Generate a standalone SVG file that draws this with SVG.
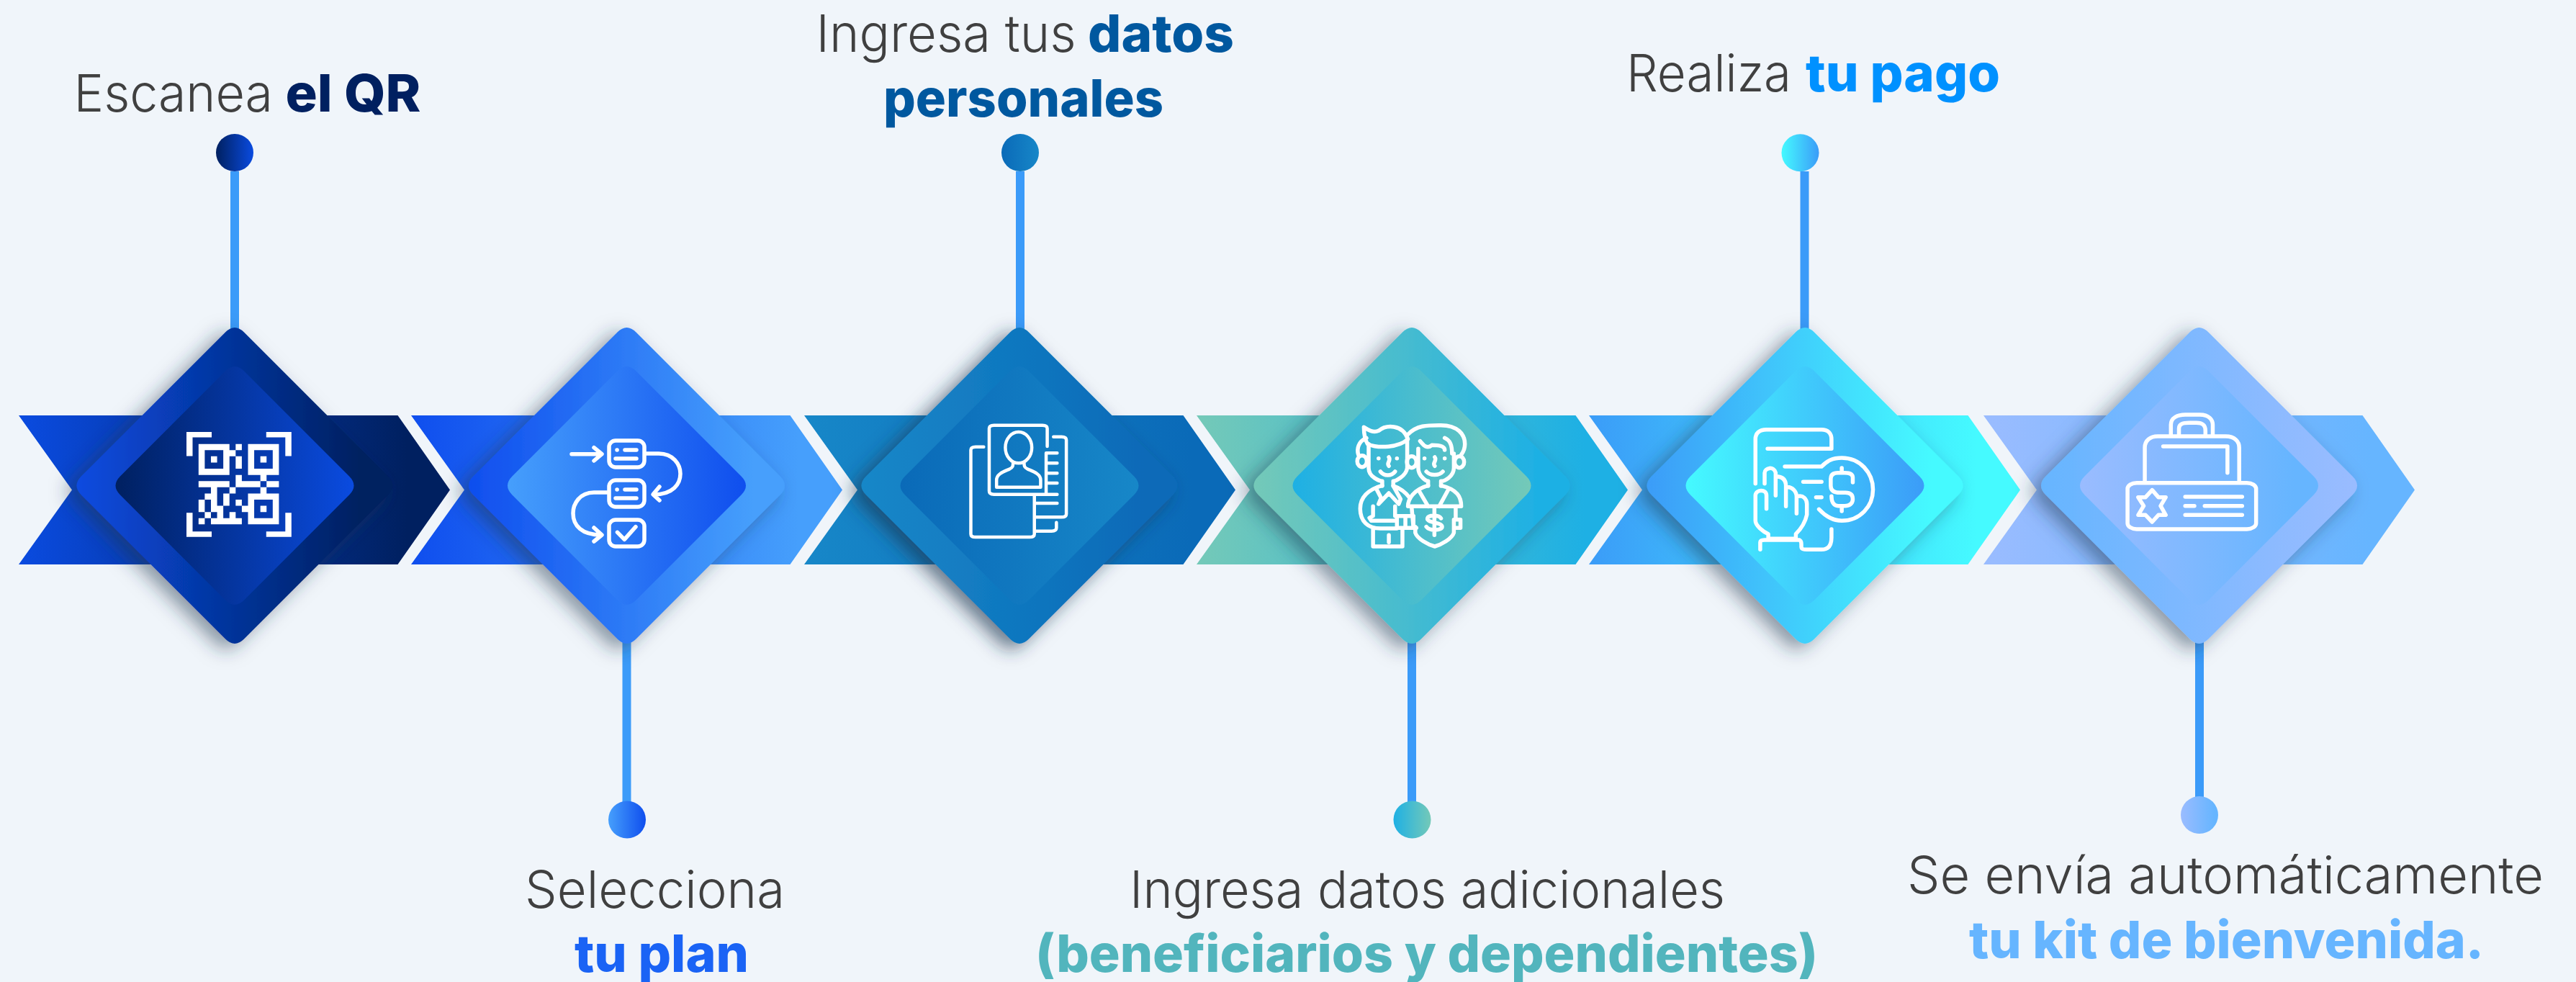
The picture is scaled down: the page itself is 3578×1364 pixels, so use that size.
<svg xmlns="http://www.w3.org/2000/svg" width="3578" height="1364" viewBox="0 0 3578 1364">
<style>
.bg{fill:#f0f5fa}
.con{stroke:#3b9bf9;stroke-width:12;fill:none}
text{font-family:"Inter","Liberation Sans",sans-serif;font-size:72px;fill:#404040;font-weight:300}
.b{font-weight:800}
.ic{fill:none;stroke:#fff;stroke-width:5.500;stroke-linecap:round;stroke-linejoin:round}
.ic *{vector-effect:non-scaling-stroke}
.sm{stroke-width:4.500}
</style>
<defs>
<linearGradient id="a1"><stop offset="0" stop-color="#0a4be0"/><stop offset=".9" stop-color="#002060"/></linearGradient>
<linearGradient id="b1"><stop offset="0" stop-color="#002060"/><stop offset="1" stop-color="#0a4be0"/></linearGradient>
<linearGradient id="a2"><stop offset="0" stop-color="#0f4eee"/><stop offset=".9" stop-color="#469ffc"/></linearGradient>
<linearGradient id="b2"><stop offset="0" stop-color="#469ffc"/><stop offset="1" stop-color="#0f4eee"/></linearGradient>
<linearGradient id="a3"><stop offset="0" stop-color="#1787c8"/><stop offset=".9" stop-color="#0a6ab8"/></linearGradient>
<linearGradient id="b3"><stop offset="0" stop-color="#0a6ab8"/><stop offset="1" stop-color="#1787c8"/></linearGradient>
<linearGradient id="a4"><stop offset="0" stop-color="#74c9b8"/><stop offset=".9" stop-color="#1eb0e4"/></linearGradient>
<linearGradient id="b4"><stop offset="0" stop-color="#1eb0e4"/><stop offset="1" stop-color="#74c9b8"/></linearGradient>
<linearGradient id="a5"><stop offset="0" stop-color="#3b9cf8"/><stop offset=".9" stop-color="#45faff"/></linearGradient>
<linearGradient id="b5"><stop offset="0" stop-color="#45faff"/><stop offset="1" stop-color="#3b9cf8"/></linearGradient>
<linearGradient id="a6"><stop offset="0" stop-color="#9abcff"/><stop offset=".9" stop-color="#66b5ff"/></linearGradient>
<linearGradient id="b6"><stop offset="0" stop-color="#66b5ff"/><stop offset="1" stop-color="#9abcff"/></linearGradient>
<filter id="sh" x="-25%" y="-25%" width="150%" height="150%"><feDropShadow dx="-12" dy="8" stdDeviation="13" flood-color="#1c3550" flood-opacity=".5"/></filter>
<filter id="sh3" x="-25%" y="-25%" width="150%" height="150%"><feDropShadow dx="-12" dy="8" stdDeviation="13" flood-color="#1c3550" flood-opacity=".65"/></filter>
<path id="arrow" d="M0 577H526.500L599 680.500L526.500 784H0L74 680.500Z"/>
<path id="out" d="M-213 -13Q-226 0 -213 13L-13 213Q0 226 13 213L213 13Q226 0 213 -13L13 -213Q0 -226 -13 -213Z"/>
<path id="inn" d="M-159 -13Q-172 0 -159 13L-13 159Q0 172 13 159L159 13Q172 0 159 -13L13 -159Q0 -172 -13 -159Z"/>
</defs>
<rect class="bg" width="3578" height="1364"/>
<g id="connectors">
<path class="con" d="M326 238V460M1417 238V460M2506.500 238V460M870.500 890V1115M1961 890V1115M3055 890V1110"/>
</g>

<g id="node1">
<use href="#arrow" x="26" fill="url(#a1)"/>
<use href="#out" x="326" y="674.500" fill="url(#a1)" filter="url(#sh)"/>
<use href="#inn" x="326" y="674.500" fill="url(#b1)"/>
<path fill="#fff" d="M259 600h35v7.500h-26.500v26h-8.500zM404.800 600h-35v7.500h26.500v26h8.500zM259 745.700h35v-7.500h-26.500v-26h-8.500zM404.800 745.700h-35v-7.500h26.500v-26h8.500z"/>
<path fill="#fff" fill-rule="evenodd" transform="translate(275.800 616.700) scale(8.585)" d="M0 0h5v5h-5zM1 1h3v3h-3zM2 2h1v1h-1zM8 0h5v5h-5zM9 1h3v3h-3zM10 2h1v1h-1zM8 8h5v5h-5zM9 9h3v3h-3zM10 10h1v1h-1zM6 0h1v1h-1zM5 1h1v1h-1zM6 2h1v2h-1zM6 5h1v1h-1zM10 5h1v1h-1zM0 6h5v1h-5zM6 6h4v1h-4zM11 6h2v1h-2zM2 7h1v1h-1zM5 7h1v1h-1zM10 7h1v1h-1zM1 8h2v1h-2zM4 8h1v1h-1zM0 9h1v1h-1zM2 9h1v1h-1zM4 9h1v1h-1zM6 9h1v1h-1zM0 10h1v1h-1zM2 10h2v1h-2zM7 10h1v1h-1zM1 11h1v1h-1zM3 11h1v1h-1zM5 11h1v1h-1zM0 12h1v1h-1zM2 12h5v1h-5z"/>
<circle cx="326" cy="212" r="26" fill="url(#b1)"/>
<text y="155"><tspan x="102.600" textLength="276.400" lengthAdjust="spacingAndGlyphs">Escanea</tspan> <tspan class="b" x="396.500" textLength="188" lengthAdjust="spacingAndGlyphs" fill="#002060">el QR</tspan></text>
</g>

<g id="node2">
<use href="#arrow" x="571" fill="url(#a2)"/>
<use href="#out" x="870.500" y="674.500" fill="url(#a2)" filter="url(#sh)"/>
<use href="#inn" x="870.500" y="674.500" fill="url(#b2)"/>
<g class="ic">
<rect x="846" y="612" width="49" height="37" rx="9"/><rect x="846" y="667" width="49" height="37" rx="9"/><rect x="846" y="722" width="49" height="37" rx="9"/>
<path d="M857 625h.1M868 625H884M855 637H884M857 680h.1M868 680H884M855 692H884M794 630.700H835M825 621.700L836 630.700L825 640M898 630H915C935 630 945 645 945 658C945 672 935 687 908 687M916 676L907 686.700L916 695M843 684H825C805 684 796 700 796 713C796 730 808 743 835 743M825 733L836 743L825 752M857.500 739.300L867.300 749.300L883 731.700"/>
</g>
<circle cx="871" cy="1138.500" r="26" fill="url(#b2)"/>
<text y="1260.700"><tspan x="729" textLength="361" lengthAdjust="spacingAndGlyphs">Selecciona</tspan><tspan class="b" x="798" y="1350" textLength="242" lengthAdjust="spacingAndGlyphs" fill="#1a63f5">tu plan</tspan></text>
</g>

<g id="node3">
<use href="#arrow" x="1117" fill="url(#a3)"/>
<use href="#out" x="1416" y="674.500" fill="url(#a3)" filter="url(#sh3)"/>
<use href="#inn" x="1416" y="674.500" fill="url(#b3)"/>
<g class="ic sm" transform="translate(1300 560) scale(.5102 .3333)">
<path d="M303 180V105Q303 92 290 92H158Q145 92 145 105V367Q145 380 158 380H330M130 182H108Q95 182 95 195V545Q95 558 108 558H255Q268 558 268 545V380"/>
<ellipse cx="225" cy="185" rx="36" ry="65"/>
<path d="M165 350H285V320C285 295 265 285 250 275C240 268 240 260 240 250M165 350V320C165 295 185 285 200 275C210 268 210 260 210 250"/>
<path d="M300 208V375M300 208H330M300 250H330M300 292H330M300 333H330M270 417H330M320 140H342Q355 140 355 153V462Q355 475 342 475H270M328 497V520Q328 533 315 533H270"/>
</g>
<circle cx="1417" cy="212" r="26" fill="url(#b3)"/>
<text y="71.700"><tspan x="1133.600" textLength="361" lengthAdjust="spacingAndGlyphs">Ingresa tus</tspan> <tspan class="b" x="1511" textLength="203" lengthAdjust="spacingAndGlyphs" fill="#00589f">datos</tspan><tspan class="b" x="1227" y="161.700" textLength="389" lengthAdjust="spacingAndGlyphs" fill="#00589f">personales</tspan></text>
</g>

<g id="node4">
<use href="#arrow" x="1662" fill="url(#a4)"/>
<use href="#out" x="1961" y="674.500" fill="url(#a4)" filter="url(#sh)"/>
<use href="#inn" x="1961" y="674.500" fill="url(#b4)"/>
<g class="ic" transform="translate(1300 560) scale(.5102 .3333)">
<path d="M1165 100C1175 110 1190 125 1205 115C1225 90 1270 85 1285 150C1260 185 1205 190 1175 170C1165 145 1165 120 1165 100Z"/>
<path d="M1172 145C1150 160 1145 190 1150 215M1178 170V270C1178 310 1210 325 1215 325V345M1283 150V270C1280 305 1250 325 1245 325V345M1205 230h.1M1255 230h.1M1233 225C1240 240 1225 250 1233 262M1210 285C1220 305 1240 305 1250 285"/>
<ellipse cx="1160" cy="242" rx="13" ry="24"/><ellipse cx="1295" cy="245" rx="13" ry="24"/><ellipse cx="1425" cy="245" rx="13" ry="24"/>
<path d="M1215 343C1175 360 1155 395 1155 440C1155 490 1175 525 1215 522H1255M1200 360L1212 395L1205 420L1233 375L1260 420L1265 400L1245 345C1265 355 1280 375 1290 395M1190 430V470L1180 478L1185 490H1255M1250 430V470H1300V520H1255V470M1278 470V520M1190 525V597H1270V520M1233 550V580"/>
<path d="M1285 130C1310 90 1340 92 1375 92C1420 92 1440 130 1440 170C1440 190 1435 205 1430 215M1318 158C1325 170 1335 195 1350 175C1370 175 1385 180 1385 195M1385 145C1400 155 1405 175 1405 210M1313 190V270C1313 305 1335 325 1340 325V345M1410 210V270C1410 305 1385 325 1375 325V345M1330 230h.1M1385 230h.1M1358 225C1365 240 1350 250 1358 262M1335 285C1345 303 1370 303 1380 285"/>
<path d="M1340 343C1300 360 1285 400 1285 430H1430C1430 390 1420 360 1375 343M1315 365L1340 430M1395 360L1370 430M1295 432L1300 520H1308M1415 432V485H1428V520H1410M1305 515V540C1310 565 1340 590 1358 597C1375 590 1405 565 1410 540V485"/>
<path d="M1375 480C1370 465 1340 465 1338 480C1336 500 1378 495 1378 515C1378 530 1345 535 1335 515M1357 435V550"/>
</g>
<circle cx="1961.500" cy="1138.500" r="26" fill="url(#b4)"/>
<text y="1260.700"><tspan x="1569" textLength="827" lengthAdjust="spacingAndGlyphs">Ingresa datos adicionales</tspan><tspan class="b" x="1438" y="1350" textLength="1087" lengthAdjust="spacingAndGlyphs" fill="#52b5bd">(beneficiarios y dependientes)</tspan></text>
</g>

<g id="node5">
<use href="#arrow" x="2207" fill="url(#a5)"/>
<use href="#out" x="2507" y="674.500" fill="url(#a5)" filter="url(#sh)"/>
<use href="#inn" x="2507" y="674.500" fill="url(#b5)"/>
<g class="ic" transform="translate(2400 560) scale(.5102 .3333)">
<path d="M75 335V150C75 125 85 110 105 110H255C275 110 282 130 282 150V190H108M155 264H255C270 240 285 228 310 228C360 228 395 290 395 360C395 430 360 490 310 490C285 490 265 470 248 442"/>
<path d="M310 270V290M340 330V310C340 295 330 290 318 290H300C285 290 280 300 280 315V345C280 365 290 373 305 373H320C335 373 340 385 340 400C340 420 330 428 318 428H300C290 428 282 415 282 388M310 428V450M205 328H255M240 392H255"/>
<path d="M100 335V290C100 270 125 260 130 290V385M130 305C150 305 158 320 158 345V430M158 350C175 345 187 370 187 390V460M187 390C205 380 215 400 215 420V465C210 500 195 530 185 545V565H110V545C95 535 75 510 75 490V385C75 360 105 355 105 385V440M88 610V580C88 570 95 570 100 570H195C200 575 200 580 200 600C200 608 205 610 215 610H255C275 610 282 590 282 560V525"/>
</g>
<circle cx="2500.500" cy="212.300" r="26" fill="url(#b5)"/>
<text y="127.300"><tspan x="2259" textLength="229" lengthAdjust="spacingAndGlyphs">Realiza</tspan> <tspan class="b" x="2508" textLength="270" lengthAdjust="spacingAndGlyphs" fill="#0091ff">tu pago</tspan></text>
</g>

<g id="node6">
<use href="#arrow" x="2755" fill="url(#a6)"/>
<use href="#out" x="3054.500" y="674.500" fill="url(#b6)" filter="url(#sh)"/>
<use href="#inn" x="3054.500" y="674.500" fill="url(#a6)"/>
<g class="ic" transform="translate(2400 560) scale(.5102 .3333)">
<path d="M1206 135V90C1206 60 1225 48 1245 48H1285C1310 48 1320 70 1320 90V135M1228 135V105C1228 85 1240 82 1255 82H1275C1295 82 1300 95 1300 115V135M1135 330V185C1135 155 1150 138 1170 138H1355C1380 138 1392 160 1392 185V330M1185 180H1360V290"/>
<rect x="1088" y="332" width="350" height="193" rx="25"/>
<path d="M1155 362L1172 392H1192L1178 428L1192 466H1172L1155 495L1137 466H1117L1132 428L1117 392H1137ZM1245 390H1400M1245 428H1270M1298 428H1400M1245 466H1400"/>
</g>
<circle cx="3055" cy="1132" r="26" fill="url(#a6)"/>
<text y="1241"><tspan x="2649" textLength="884" lengthAdjust="spacingAndGlyphs">Se envía automáticamente</tspan><tspan class="b" x="2735" y="1331" textLength="715" lengthAdjust="spacingAndGlyphs" fill="#66b5ff">tu kit de bienvenida.</tspan></text>
</g>
</svg>
